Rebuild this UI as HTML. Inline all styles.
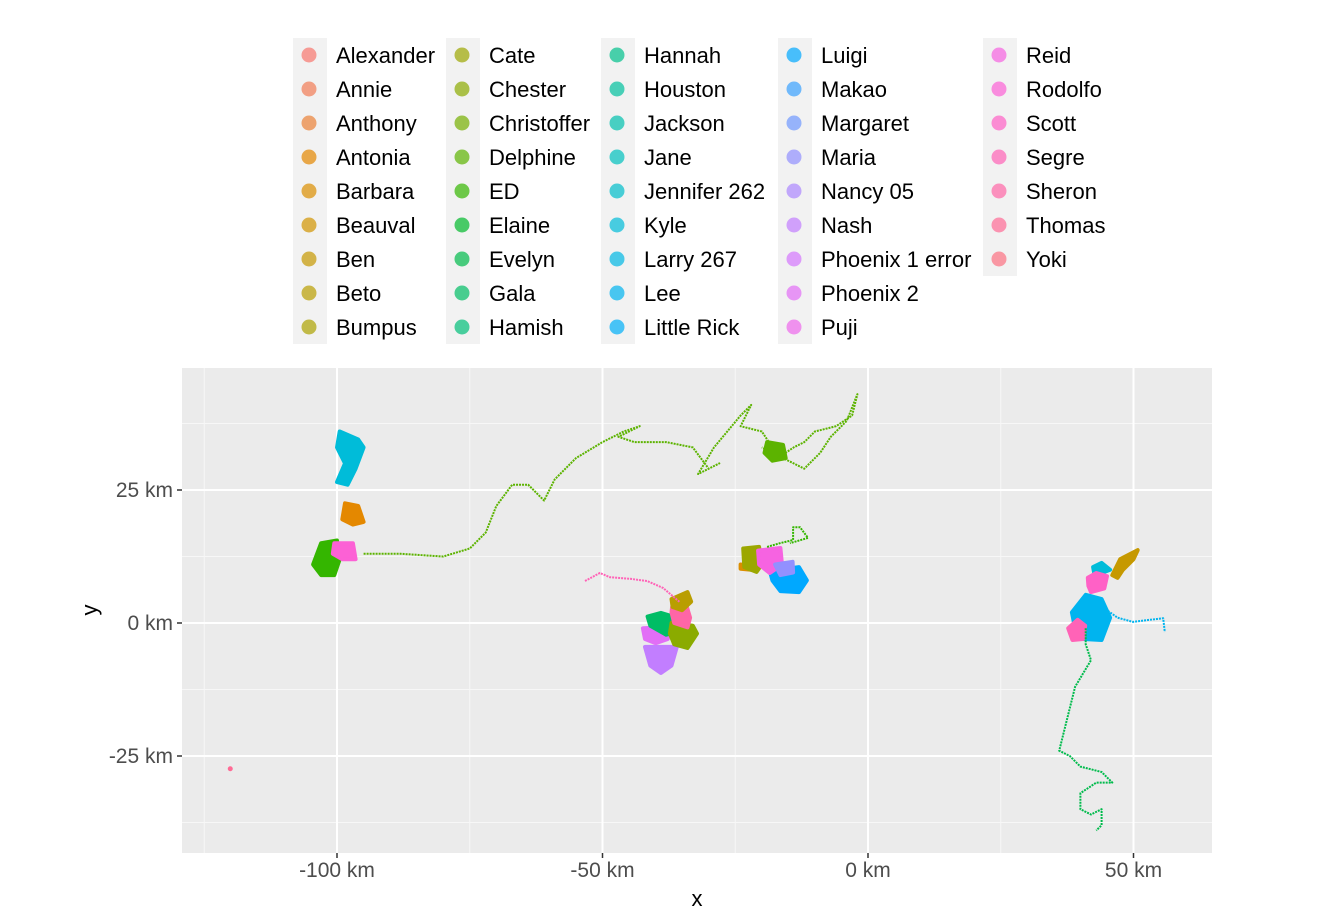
<!DOCTYPE html>
<html><head><meta charset="utf-8">
<style>
body{margin:0;background:#fff;font-family:"Liberation Sans",sans-serif;}
svg text{font-family:"Liberation Sans",sans-serif;}
</style></head>
<body>
<svg id="chart" width="1333" height="917" viewBox="0 0 1333 917">
<rect x="182" y="368" width="1030" height="485" fill="#ebebeb"/>
<g id="grid"></g><g id="marks"></g><g id="axes"></g><g id="legend"></g>
<text x="697" y="906" font-size="22" text-anchor="middle" fill="#000">x</text>
<text x="97" y="610" font-size="22" text-anchor="middle" fill="#000" transform="rotate(-90 97 610)">y</text>
</svg>
<script>
const names=["Alexander","Annie","Anthony","Antonia","Barbara","Beauval","Ben","Beto","Bumpus","Cate","Chester","Christoffer","Delphine","ED","Elaine","Evelyn","Gala","Hamish","Hannah","Houston","Jackson","Jane","Jennifer 262","Kyle","Larry 267","Lee","Little Rick","Luigi","Makao","Margaret","Maria","Nancy 05","Nash","Phoenix 1 error","Phoenix 2","Puji","Reid","Rodolfo","Scott","Segre","Sheron","Thomas","Yoki"];
const xTicks=[-100,-50,0,50];
const yTicks=[-25,0,25];
// tracks: [nameIndex, points in km]
const tracks=[
[12,[[-95,13],[-88,13],[-80,12.5],[-75,14],[-72,17],[-70,22],[-67,26],[-64,26],[-61,23],[-59,27],[-55,31],[-50,34],[-46,36],[-43,37],[-47,35],[-44,34],[-38,34],[-33,33],[-30,29],[-28,30],[-32,28],[-29,33],[-24,39],[-22,41],[-24,37],[-20,36],[-18,33],[-17,31],[-14,33],[-12,34],[-10,36],[-6,37],[-3,39],[-2,43],[-4,38],[-7,35],[-9,32],[-12,29],[-16,31],[-20,33]]],
[15,[[41,-1],[41,-4],[42,-7],[39,-12],[38,-16],[36,-24],[38,-25],[40,-27],[44,-28],[46,-30],[43,-30],[40,-32],[40,-35],[42,-36],[44,-35],[44,-38],[43,-39]]],
[25,[[41,0],[43,2],[45,2.4],[47,1],[49.9,0.2],[53.1,0.6],[55.6,0.9],[55.9,-1.7]]],
[39,[[-53.3,7.9],[-50.5,9.4],[-48.6,8.6],[-44.8,8.3],[-41.6,7.9],[-38.6,6.6],[-35.4,3.9]]],
[13,[[-19,14.3],[-16.6,15],[-14.1,15.6],[-14.1,18],[-12.8,18],[-11.3,16],[-14.7,15]]]
];
// blobs: [nameIndex, polygon in km]
const blobs=[
[23,[[-99.5,36],[-96,34.5],[-95,33],[-96.5,29],[-98,26],[-100,26.5],[-98.5,30],[-100,33]]],
[3,[[-98.5,22.5],[-96,22],[-95,19],[-97,18.5],[-99,19.5]]],
[13,[[-103,15],[-100,15.5],[-99.5,12],[-100.5,9],[-103,9],[-104.5,11]]],
[37,[[-100.5,15],[-97,15],[-96.5,12],[-99,12],[-100.8,13]]],
[12,[[-19,34],[-16,33.5],[-15.5,31],[-18,30.5],[-19.5,32]]],
[32,[[-42,-4.5],[-36,-4.5],[-37,-8],[-39,-9.4],[-41,-8]]],
[34,[[-42.4,-1],[-38,-0.8],[-37.7,-3],[-40,-3.8],[-42,-3]]],
[16,[[-41.5,1.2],[-39,1.9],[-36,1],[-35,-1.5],[-38,-2.2],[-41,-0.5]]],
[10,[[-37,0],[-33,-0.5],[-32.2,-2],[-34,-4.7],[-36.5,-4],[-37.3,-2]]],
[40,[[-36.9,3],[-34.5,4.3],[-33.5,1],[-34,-0.8],[-36.5,0],[-37,2]]],
[7,[[-37,4.5],[-34,5.8],[-33.3,4],[-35,2.4],[-36.8,3]]],
[4,[[-24,11],[-22,10.8],[-22,10],[-24,10.2]]],
[9,[[-23.5,14],[-20.5,14.3],[-20,11],[-21,9.6],[-23.3,10.5]]],
[27,[[-18.5,9.8],[-13,10.5],[-11.5,8],[-13,5.8],[-16.5,6],[-18,8]]],
[36,[[-20.7,13.6],[-16.5,14.1],[-16.2,11],[-18.5,9.4],[-20.5,11]]],
[30,[[-17.5,11],[-14.2,11.5],[-14.1,9.5],[-16.5,9]]],
[6,[[46,9],[47.5,12],[50.8,13.7],[50,12],[48,10],[47,8.5]]],
[23,[[42.4,10.5],[44,11.3],[45.6,10],[44,9.4],[42.6,9.4]]],
[38,[[41.4,8.5],[43,9.4],[45,8.8],[44.5,6.5],[42,5.8],[41.5,7]]],
[25,[[38.4,2],[41,5.3],[44,4.5],[45.6,1],[44,-3.2],[40.5,-3],[39,-1]]],
[39,[[37.7,-1],[39.5,0.6],[40.9,-0.5],[40.5,-3],[38.5,-3.2]]]
];
const points=[[41,[-120.1,-27.4]]];
const X=k=>868+k*5.31, Y=k=>623-k*5.32;
function hcl(h){const L=65,C=100,hr=h*Math.PI/180;const u=C*Math.cos(hr),v=C*Math.sin(hr);
const un=0.19784,vn=0.46834;const Yv=Math.pow((L+16)/116,3);
const up=u/(13*L)+un,vp=v/(13*L)+vn;
const x=Yv*9*up/(4*vp),y=Yv,z=Yv*(12-3*up-20*vp)/(4*vp);
let r=3.2406*x-1.5372*y-0.4986*z,g=-0.9689*x+1.8758*y+0.0415*z,bb=0.0557*x-0.2040*y+1.0570*z;
const gm=c=>{c=c<=0.0031308?12.92*c:1.055*Math.pow(c,1/2.4)-0.055;return Math.round(Math.max(0,Math.min(1,c))*255);};
return `rgb(${gm(r)},${gm(g)},${gm(bb)})`;}
const col=i=>hcl(15+i*360/names.length);
const NS="http://www.w3.org/2000/svg";
function mk(t,a,p){const e=document.createElementNS(NS,t);for(const k in a)e.setAttribute(k,a[k]);p.appendChild(e);return e;}
const grid=document.getElementById('grid'),marks=document.getElementById('marks'),axes=document.getElementById('axes'),leg=document.getElementById('legend');
[-125,-75,-25,25].forEach(v=>{const l=mk('line',{x1:X(v),x2:X(v),y1:368,y2:853,stroke:'#f7f7f7','stroke-width':1},grid);

});
[-37.5,-12.5,12.5,37.5].forEach(v=>{const l=mk('line',{x1:182,x2:1212,y1:Y(v),y2:Y(v),stroke:'#f7f7f7','stroke-width':1},grid);

});
xTicks.forEach(v=>{const l=mk('line',{x1:X(v),x2:X(v),y1:368,y2:853,stroke:'#fff','stroke-width':2},grid);


const t=mk('line',{x1:X(v),x2:X(v),y1:853,y2:858,stroke:'#333','stroke-width':1.5},axes);


const tx=mk('text',{x:X(v),y:877,'font-size':21,'text-anchor':'middle',fill:'#4d4d4d'},axes);tx.textContent=v+' km';

});
yTicks.forEach(v=>{const l=mk('line',{x1:182,x2:1212,y1:Y(v),y2:Y(v),stroke:'#fff','stroke-width':2},grid);


const t=mk('line',{x1:177,x2:182,y1:Y(v),y2:Y(v),stroke:'#333','stroke-width':1.5},axes);


const tx=mk('text',{x:173,y:Y(v)+7,'font-size':21,'text-anchor':'end',fill:'#4d4d4d'},axes);tx.textContent=v+' km';

});
const pstr=pts=>pts.map(p=>X(p[0]).toFixed(1)+','+Y(p[1]).toFixed(1)).join(' ');
blobs.forEach(b=>{const e=mk('polygon',{points:pstr(b[1]),fill:col(b[0]),stroke:col(b[0]),'stroke-width':4,'stroke-linejoin':'round'},marks);

});
tracks.forEach(t=>{const e=mk('polyline',{points:pstr(t[1]),fill:'none',stroke:col(t[0]),'stroke-width':2,'stroke-dasharray':'2 1','stroke-linejoin':'round'},marks);

});
points.forEach(p=>{const e=mk('circle',{cx:X(p[1][0]),cy:Y(p[1][1]),r:2.5,fill:col(p[0])},marks);

});
const colX=[293,446,601,778,983];
for(let c=0;c<5;c++){const rows=Math.min(9,names.length-c*9);const bg=mk('rect',{x:colX[c],y:38,width:34,height:rows*34,fill:'#f2f2f2'},leg);

}
names.forEach((n,i)=>{const c=Math.floor(i/9),r=i%9;const cx=colX[c]+16,cy=55+r*34;
const g=mk('g',{},leg);


mk('circle',{cx:cx,cy:cy,r:7.5,fill:col(i),'fill-opacity':0.7},g);
const t=mk('text',{x:colX[c]+43,y:cy+8,'font-size':22,fill:'#000'},g);t.textContent=n;});
</script>
</body></html>
